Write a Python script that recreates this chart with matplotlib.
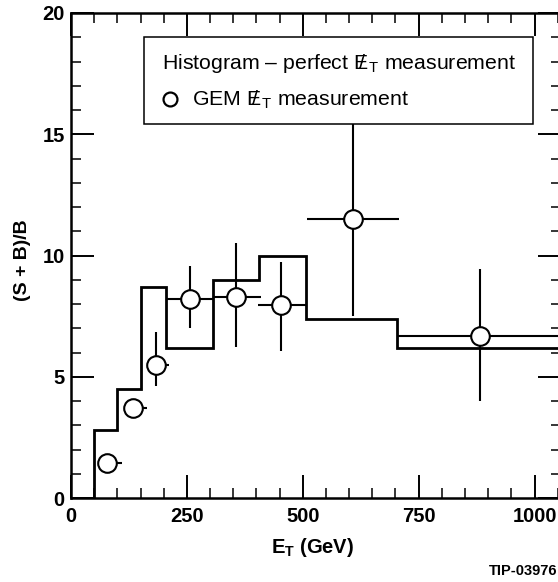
import matplotlib
matplotlib.use("Agg")
import matplotlib.pyplot as plt
from matplotlib.patches import Rectangle
from matplotlib.ticker import MultipleLocator

# ---------------- data ----------------
hist_edges = [50, 100, 150, 204, 307, 405, 508, 703, 1100]
hist_values = [2.8, 4.5, 8.7, 6.2, 9.0, 10.0, 7.4, 6.2]

gem_x = [77, 134, 183, 256, 356, 454, 609, 882]
gem_y = [1.45, 3.7, 5.5, 8.2, 8.27, 7.96, 11.5, 6.69]
gem_xerr_lo = [15, 15, 15, 51, 49, 50, 99, 176]
gem_xerr_hi = [32, 31, 29, 51, 55, 55, 99, 180]
gem_yerr_lo = [0.2, 0.2, 0.9, 1.2, 2.05, 1.88, 4.0, 2.69]
gem_yerr_hi = [0.2, 0.2, 1.35, 1.35, 2.25, 1.78, 3.92, 2.75]

x_ticks = [0, 250, 500, 750, 1000]
y_ticks = [0, 5, 10, 15, 20]

legend_hist = r"Histogram – perfect ${E\!\!\!/\:}_T$ measurement"
legend_gem = r"GEM ${E\!\!\!/\:}_T$ measurement"
xlabel = r"$\mathbf{E_T}$ (GeV)"
ylabel = "(S + B)/B"
tag = "TIP-03976"

# ---------------- style ----------------
plt.rcParams["font.family"] = ["Liberation Sans", "DejaVu Sans"]
plt.rcParams["mathtext.fontset"] = "custom"
plt.rcParams["mathtext.rm"] = "Liberation Sans"
plt.rcParams["mathtext.it"] = "Liberation Sans"
plt.rcParams["mathtext.bf"] = "Liberation Sans:bold"
plt.rcParams["mathtext.default"] = "regular"

W, H, DPI = 558, 582, 100
fig = plt.figure(figsize=(W / DPI, H / DPI), dpi=DPI)

# axes: left spine at x=71px, right spine at 561px, top 13px, bottom 498px
ax = fig.add_axes([71 / W, 1 - 498 / H, 490 / W, 485 / H])
ax.set_xlim(0, 490 / 0.4635)
ax.set_ylim(0, 20)

# histogram
ax.stairs(hist_values, hist_edges, baseline=0, color="black", linewidth=2.0,
          zorder=2)

# GEM points
ax.errorbar(gem_x, gem_y,
            xerr=[gem_xerr_lo, gem_xerr_hi],
            yerr=[gem_yerr_lo, gem_yerr_hi],
            fmt="o", markersize=13.4, markerfacecolor="white",
            markeredgecolor="black", markeredgewidth=1.5,
            ecolor="black", elinewidth=1.5, capsize=0, zorder=3)

# ticks
ax.set_xticks(x_ticks)
ax.set_yticks(y_ticks)
ax.xaxis.set_minor_locator(MultipleLocator(50))
ax.yaxis.set_minor_locator(MultipleLocator(1))
ax.tick_params(which="both", direction="in", top=True, right=True,
               colors="black")
ax.tick_params(which="major", length=16.5, width=1.4, labelsize=14.5)
ax.tick_params(which="minor", length=7.5, width=1.1)
ax.tick_params(axis="x", which="major", pad=6.5)
ax.tick_params(axis="y", which="major", pad=4.5)
for lbl in ax.get_xticklabels() + ax.get_yticklabels():
    lbl.set_fontweight("bold")
for sp in ax.spines.values():
    sp.set_linewidth(1.8)

ax.set_xlabel(xlabel, fontsize=14.5, fontweight="bold")
ax.xaxis.set_label_coords(0.492, -0.078)
ax.xaxis.label.set_va("top")
ax.set_ylabel(ylabel, fontsize=14, fontweight="bold")
ax.yaxis.set_label_coords(-0.082, 0.49)

# legend box (drawn manually)
def fx(px):
    return px / W

def fy(py):
    return 1 - py / H

fig.add_artist(Rectangle((fx(144), fy(124)), fx(533) - fx(144),
                         fy(37) - fy(124), transform=fig.transFigure,
                         facecolor="white", edgecolor="black", linewidth=1.1,
                         zorder=5))
fig.text(fx(162), fy(69), legend_hist, fontsize=15.3, va="baseline",
         ha="left", zorder=6)
fig.add_artist(plt.Line2D([fx(170)], [fy(98.5)], marker="o", markersize=10,
                          markerfacecolor="white", markeredgecolor="black",
                          markeredgewidth=1.6, transform=fig.transFigure,
                          zorder=6))
fig.text(fx(192), fy(106), legend_gem, fontsize=15.3, va="baseline",
         ha="left", zorder=6)

fig.text(fx(557), fy(575), tag, fontsize=10.5, fontweight="bold",
         ha="right", va="baseline")

fig.savefig("out.png", dpi=DPI)
